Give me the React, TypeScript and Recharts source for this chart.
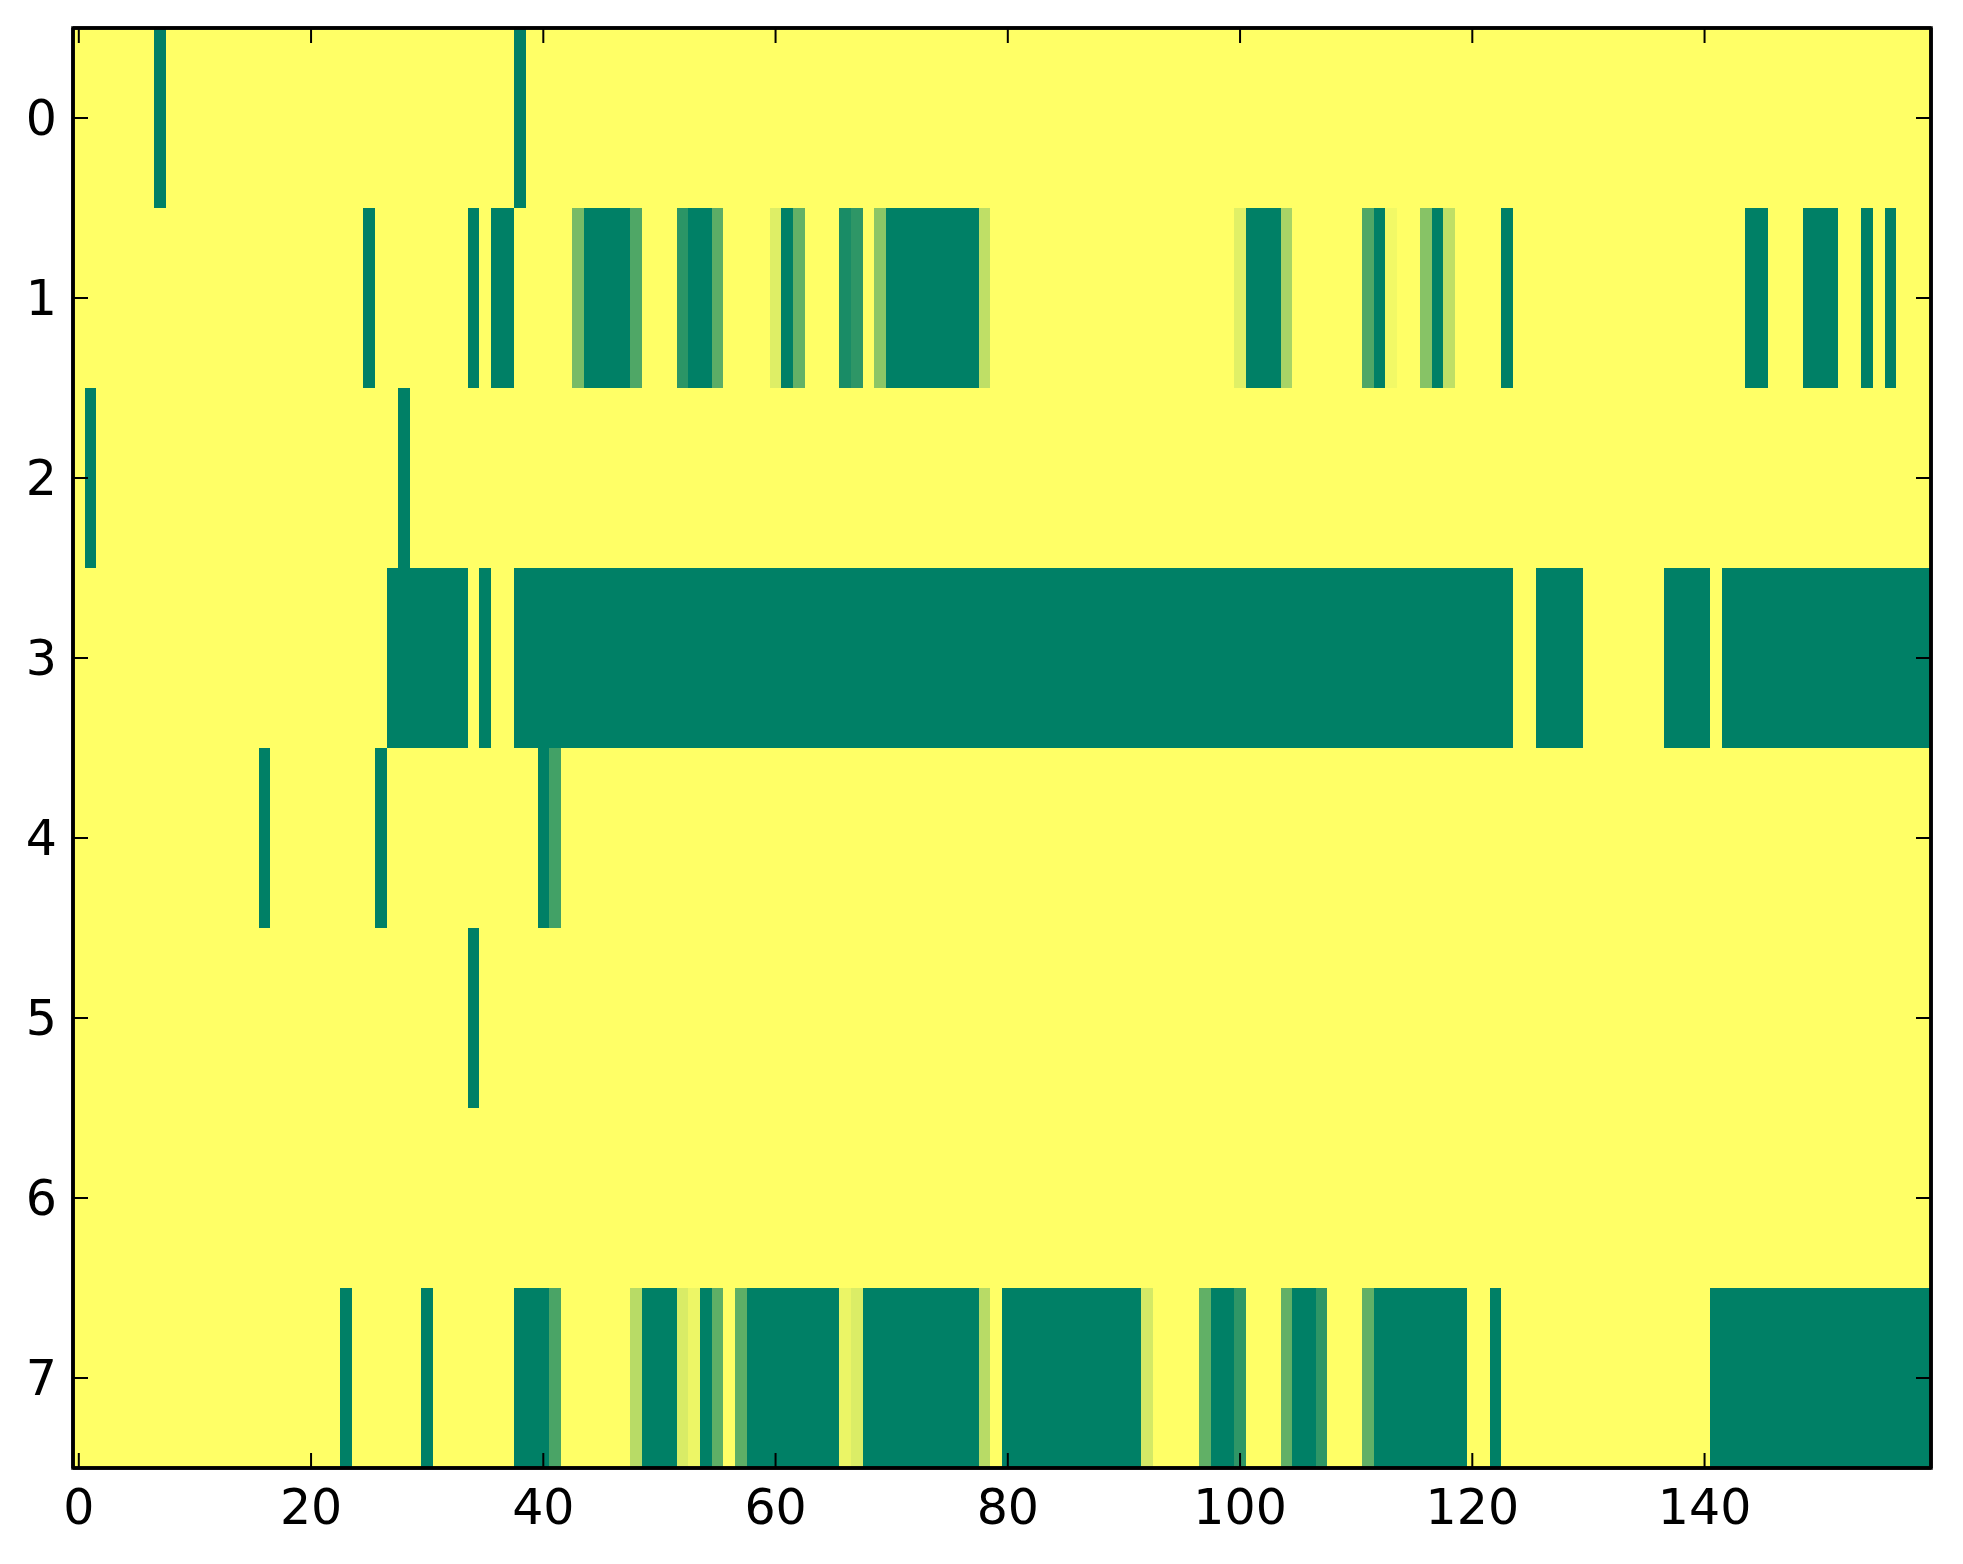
import React from 'react';
import { ComposedChart, XAxis, YAxis, ReferenceArea, Scatter } from 'recharts';

// Heatmap: 8 rows x 160 columns, values in [0, 1], colormap "summer_r"
const N_COLS = 160;
const ROW_IDS = [0, 1, 2, 3, 4, 5, 6, 7];
const X_TICKS = [0, 20, 40, 60, 80, 100, 120, 140];
const Y_TICKS = [0, 1, 2, 3, 4, 5, 6, 7];

// runs of non-zero cells: [firstColumn, lastColumn, value]
const row0 = [[7, 7, 1], [38, 38, 1]];
const row1 = [
  [25, 25, 1], [34, 34, 1], [36, 37, 1], [43, 43, 0.53], [44, 47, 1], [48, 48, 0.69],
  [52, 52, 0.83], [53, 54, 1], [55, 55, 0.64], [60, 60, 0.13], [61, 61, 1], [62, 62, 0.61],
  [66, 66, 0.9], [67, 67, 0.82], [69, 69, 0.45], [70, 77, 1], [78, 78, 0.25],
  [100, 100, 0.12], [101, 103, 1], [104, 104, 0.34], [111, 111, 0.69], [112, 112, 1],
  [113, 113, 0.05], [116, 116, 0.47], [117, 117, 1], [118, 118, 0.25], [123, 123, 1],
  [144, 145, 1], [149, 151, 1], [154, 154, 1], [156, 156, 1],
];
const row2 = [[1, 1, 1], [28, 28, 1]];
const row3 = [[27, 33, 1], [35, 35, 1], [38, 123, 1], [126, 129, 1], [137, 140, 1], [142, 159, 1]];
const row4 = [[16, 16, 1], [26, 26, 1], [40, 40, 1], [41, 41, 0.74]];
const row5 = [[34, 34, 1]];
const row6: number[][] = [];
const row7 = [
  [23, 23, 1], [30, 30, 1], [38, 40, 1], [41, 41, 0.71], [48, 48, 0.28], [49, 51, 1],
  [52, 52, 0.15], [53, 53, 0.07], [54, 54, 1], [55, 55, 0.63], [57, 57, 0.63], [58, 65, 1],
  [66, 66, 0.08], [67, 67, 0.14], [68, 77, 1], [78, 78, 0.28], [80, 91, 1], [92, 92, 0.17],
  [97, 97, 0.62], [98, 99, 1], [100, 100, 0.82], [104, 104, 0.62], [105, 106, 1],
  [107, 107, 0.82], [111, 111, 0.62], [112, 119, 1], [122, 122, 1], [141, 159, 1],
];

const ROWS = [row0, row1, row2, row3, row4, row5, row6, row7];

// matplotlib "summer_r" colormap
function summerR(v: number): string {
  const r = Math.round(255 * (1 - v));
  const g = Math.round(255 * (1 - v / 2));
  const b = Math.round(255 * 0.4);
  return `rgb(${r},${g},${b})`;
}

const FONT = { fill: '#000', fontSize: 49, fontFamily: 'DejaVu Sans' };

const cellShape = (fill: string) => (props: any) => (
  <rect
    x={props.x}
    y={props.y}
    width={props.width}
    height={props.height}
    fill={fill}
    stroke="none"
    shapeRendering="crispEdges"
  />
);

const frameShape = (props: any) => (
  <rect
    x={props.x}
    y={props.y}
    width={props.width}
    height={props.height}
    fill="none"
    stroke="#000"
    strokeWidth={3.5}
  />
);

// anchor points (first and last column of every row) so the axes have data
const anchorData = ROW_IDS.flatMap((r) => [
  { col: 0, row: r },
  { col: N_COLS - 1, row: r },
]);

const hidden = () => <g />;
const noLabel = () => <g />;

export default function App() {
  const areas: React.ReactNode[] = [];
  areas.push(
    <ReferenceArea
      key="bg"
      xAxisId="b"
      yAxisId="l"
      x1={-0.5}
      x2={N_COLS - 0.5}
      y1={-0.5}
      y2={ROW_IDS.length - 0.5}
      shape={cellShape(summerR(0))}
      ifOverflow="visible"
    />
  );
  ROWS.forEach((runs, ri) => {
    runs.forEach((run, k) => {
      const [a, z, v] = run;
      areas.push(
        <ReferenceArea
          key={`r${ri}-${k}`}
          xAxisId="b"
          yAxisId="l"
          x1={a - 0.5}
          x2={z + 0.5}
          y1={ROW_IDS[ri] - 0.5}
          y2={ROW_IDS[ri] + 0.5}
          shape={cellShape(summerR(v))}
          ifOverflow="visible"
        />
      );
    });
  });
  areas.push(
    <ReferenceArea
      key="frame"
      xAxisId="b"
      yAxisId="l"
      x1={-0.5}
      x2={N_COLS - 0.5}
      y1={-0.5}
      y2={ROW_IDS.length - 0.5}
      shape={frameShape}
      ifOverflow="visible"
    />
  );

  const axisLine = { stroke: '#000', strokeWidth: 3.5 };
  const tickLine = { stroke: '#000', strokeWidth: 2 };

  return (
    <div style={{ position: 'absolute', left: 0, top: 0, width: 1963, height: 1564, background: '#fff' }}>
      <ComposedChart width={1963} height={1564} margin={{ top: 27, right: 31, bottom: 0, left: 0 }} data={anchorData}>
        <XAxis
          xAxisId="b"
          dataKey="col"
          type="number"
          orientation="bottom"
          domain={[-0.5, N_COLS - 0.5]}
          ticks={X_TICKS}
          interval={0}
          allowDataOverflow
          height={96}
          tickSize={-15}
          tickMargin={36}
          axisLine={axisLine}
          tickLine={tickLine}
          tick={FONT}
        />
        <XAxis
          xAxisId="t"
          dataKey="col"
          type="number"
          orientation="top"
          domain={[-0.5, N_COLS - 0.5]}
          ticks={X_TICKS}
          interval={0}
          allowDataOverflow
          height={1}
          tickSize={-15}
          axisLine={axisLine}
          tickLine={tickLine}
          tick={noLabel}
        />
        <YAxis
          yAxisId="l"
          dataKey="row"
          type="number"
          orientation="left"
          reversed
          domain={[-0.5, ROW_IDS.length - 0.5]}
          ticks={Y_TICKS}
          interval={0}
          allowDataOverflow
          width={73}
          tickSize={-15}
          tickMargin={31}
          axisLine={axisLine}
          tickLine={tickLine}
          tick={FONT}
        />
        <YAxis
          yAxisId="r"
          dataKey="row"
          type="number"
          orientation="right"
          reversed
          domain={[-0.5, ROW_IDS.length - 0.5]}
          ticks={Y_TICKS}
          interval={0}
          allowDataOverflow
          width={1}
          tickSize={-15}
          axisLine={axisLine}
          tickLine={tickLine}
          tick={noLabel}
        />
        {areas}
        <Scatter xAxisId="b" yAxisId="l" dataKey="row" shape={hidden} isAnimationActive={false} />
        <Scatter xAxisId="t" yAxisId="r" dataKey="row" shape={hidden} isAnimationActive={false} />
      </ComposedChart>
    </div>
  );
}
